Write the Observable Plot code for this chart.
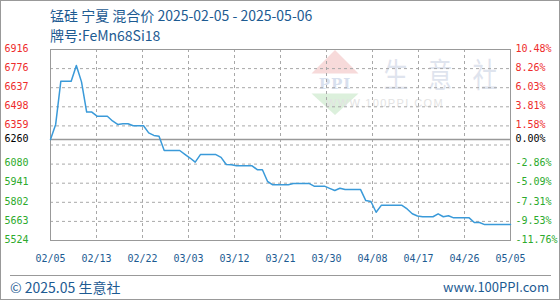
<!DOCTYPE html>
<html><head><meta charset="utf-8">
<script src="https://cdn.jsdelivr.net/npm/d3@7"></script>
<script src="https://cdn.jsdelivr.net/npm/@observablehq/plot@0.6"></script>
<style>
body{margin:0;background:#fff;}
#wrap{position:relative;width:560px;height:300px;overflow:hidden;font-family:"Noto Sans CJK SC","Noto Sans",sans-serif;background:#fff;}
#border{position:absolute;left:0;top:0;width:560px;height:300px;box-sizing:border-box;border:1px solid #999;pointer-events:none;}
.t{position:absolute;left:50px;color:#1d5b92;font-size:14px;white-space:nowrap;line-height:14px;}
#title{top:8px}
#sub{top:28px}
#chart{position:absolute;left:0;top:40px}
#rule{position:absolute;left:10px;width:541px;top:275px;height:0;border-top:1px solid #999}
#footl{position:absolute;left:10px;top:280px;font-size:14px;line-height:14px;color:#1d5b92;white-space:nowrap}
#footr{position:absolute;right:11px;top:280px;font-size:13px;line-height:14px;color:#1d5b92;white-space:nowrap}
</style></head>
<body><div id="wrap">
<div class="t" id="title">锰硅 宁夏 混合价 2025-02-05 - 2025-05-06</div>
<div class="t" id="sub">牌号:FeMn68Si18</div>
<div id="chart"></div>
<div id="rule"></div>
<div id="footl">© 2025.05 生意社</div>
<div id="footr">www.100PPI.com</div>
<div id="border"></div>
</div>
<script>
// ---- data ----
const startDate = "2025-02-05";
const endDate = "2025-05-05";
const prices = [
  6260,6370,6685,6685,6685,6800,6680,6460,6460,6430, // 02/05-02/14
  6430,6430,6395,6370,6375,6375,6360,6360,6360,6308, // 02/15-02/24
  6290,6284,6180,6180,6180,6180,6152,6125,6095,6150, // 02/25-03/06
  6150,6150,6150,6130,6078,6076,6068,6068,6068,6068, // 03/07-03/16
  6040,6040,5954,5930,5930,5930,5930,5940,5940,5940, // 03/17-03/26
  5940,5920,5920,5920,5904,5888,5905,5895,5895,5895, // 03/27-04/05
  5895,5815,5808,5730,5780,5780,5780,5780,5780,5754, // 04/06-04/15
  5719,5703,5697,5697,5697,5718,5697,5704,5689,5689, // 04/16-04/25
  5689,5689,5655,5655,5640,5640,5640,5640,5640,5640  // 04/26-05/05
];
const xTickLabels = ["02/05","02/13","02/22","03/03","03/12","03/21","03/30","04/08","04/17","04/26","05/05"];
const yTickLabels = ["6916","6776","6637","6498","6359","6260","6080","5941","5802","5663","5524"];
const pctTickLabels = ["10.48%","8.26%","6.03%","3.81%","1.58%","0.00%","-2.86%","-5.09%","-7.31%","-9.53%","-11.76%"];
const basePrice = 6260;
const yMin = 5524, yMax = 6916;

// ---- build ----
const t0 = new Date(startDate + "T00:00:00Z"), t1 = new Date(endDate + "T00:00:00Z");
const dates = d3.utcDay.range(t0, d3.utcDay.offset(t1, 1));
const series = dates.map((d, i) => ({date: d, price: prices[i]}));
const xGrid = d3.range(11).map(i => new Date(+t0 + i * (t1 - t0) / 10));
const yGrid = d3.range(11).map(i => yMin + i * (yMax - yMin) / 10);
const yTicks = yTickLabels.map(Number);
const RED = "#ee2b2b", GREEN = "#2caa2c", BLACK = "#000", BLUE = "#1d5b92";
const groups = [
  {fill: RED, ticks: yTicks.filter(v => v > basePrice)},
  {fill: BLACK, ticks: yTicks.filter(v => v === basePrice)},
  {fill: GREEN, ticks: yTicks.filter(v => v < basePrice)}
];
const leftFmt = v => yTickLabels[yTicks.indexOf(v)];
const rightFmt = v => pctTickLabels[yTicks.indexOf(v)];

const watermark = (index, scales, values, dim) => {
  const g = d3.create("svg:g");
  const ox = dim.marginLeft - 50, oy = dim.marginTop - 9;
  g.attr("transform", `translate(${ox},${oy})`);
  g.append("path").attr("d", "M335,10 L358.5,33.5 L311.5,33.5 Z").attr("fill", "#f7dada");
  g.append("path").attr("d", "M311.5,53.5 L358.5,53.5 L335,75 Z").attr("fill", "#dcf0dc");
  g.append("text").attr("x", 335).attr("y", 48.5).attr("text-anchor", "middle")
    .attr("font-family", "DejaVu Serif").attr("font-weight", "bold").attr("font-size", 15)
    .attr("fill", "#d8e0ee").attr("letter-spacing", 1).text("PPI");
  const chars = ["生","意","社"], cx = [396, 440, 485];
  chars.forEach((c, i) => {
    g.append("text").attr("transform", `translate(${cx[i]},47) scale(0.8,1.05)`)
      .attr("text-anchor", "middle").attr("font-family", "Noto Sans CJK SC")
      .attr("font-size", 31).attr("fill", "#dfe4ee").text(c);
  });
  g.append("text").attr("x", 385).attr("y", 67).attr("font-family", "Liberation Sans")
    .attr("font-size", 11).attr("letter-spacing", 1.4).attr("fill", "#e3e3e3").text("WWW.100PPI.COM");
  return g.node();
};

const gridStyle = {stroke: "#a8a8a8", strokeWidth: 1, strokeDasharray: "3 3"};
const marks = [
  watermark,
  Plot.ruleX(xGrid, gridStyle),
  Plot.ruleY(yGrid, gridStyle),
  Plot.ruleY([basePrice], {stroke: "#999", strokeWidth: 1.5}),
  Plot.frame({stroke: "#999"}),
  Plot.line(series, {x: "date", y: "price", stroke: "#3a9ad9", strokeWidth: 1.5}),
  Plot.axisX(xGrid, {anchor: "bottom", label: null, tickSize: 0, tickPadding: 14, fill: BLUE, fontSize: 10,
    tickFormat: d => xTickLabels[xGrid.findIndex(t => +t === +d)]})
];
for (const g of groups) {
  marks.push(Plot.axisY(g.ticks, {anchor: "left", label: null, tickSize: 0, tickPadding: 22, fill: g.fill, fontSize: 10, dy: -1, tickFormat: leftFmt}));
  marks.push(Plot.axisY(g.ticks, {anchor: "right", label: null, tickSize: 0, tickPadding: 5, fill: g.fill, fontSize: 10, dy: -1, tickFormat: rightFmt}));
}

const chart = Plot.plot({
  width: 560, height: 230,
  marginLeft: 50, marginRight: 50, marginTop: 9, marginBottom: 30,
  style: {fontFamily: "'DejaVu Sans Mono', monospace", fontSize: "10px", background: "transparent", overflow: "visible"},
  x: {type: "utc", domain: [t0, t1]},
  y: {domain: [yMin, yMax]},
  marks
});
document.getElementById("chart").appendChild(chart);
</script>
</body></html>
